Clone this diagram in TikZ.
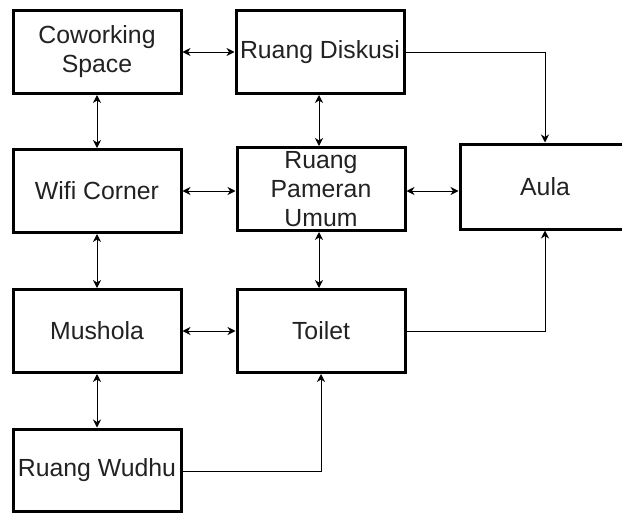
\documentclass[tikz,border=0pt]{standalone}
\usepackage{fontspec}
\setmainfont{Liberation Sans}
\usetikzlibrary{arrows.meta}
\definecolor{txt}{HTML}{222222}
\tikzset{
  room/.style={draw=black, line width=3pt, fill=white, inner sep=0pt,
    minimum width=168pt, minimum height=83pt, align=center, text=txt,
    font=\fontsize{24.8}{29}\selectfont},
  link/.style={draw=black, line width=1pt},
  both/.style={link, {Stealth[length=8pt,width=8pt,inset=2.5pt]}-{Stealth[length=8pt,width=8pt,inset=2.5pt]}},
  one/.style={link, -{Stealth[length=8pt,width=8pt,inset=2.5pt]}}
}
\begin{document}
\begin{tikzpicture}[x=1pt,y=-1pt]
\useasboundingbox (0,0) rectangle (622,514);
\clip (0,0) rectangle (622,514);
\fill[white] (0,0) rectangle (622,514);
\node[room] (cow) at (97,52) {Coworking\\Space};
\node[room] (dis) at (320,52) {Ruang Diskusi};
\node[room] (wifi) at (97,191) {Wifi Corner};
\node[room] (pam) at (321,189) {Ruang\\Pameran\\Umum};
\node[room, minimum width=170pt, minimum height=85pt] (aula) at (545,186.5) {Aula};
\node[room] (mus) at (97,331) {Mushola};
\node[room] (toi) at (321,331) {Toilet};
\node[room, minimum height=82pt] (wud) at (97,470) {Ruang Wudhu};
\coordinate (c1) at (545,52);
\coordinate (c2) at (545,331);
\coordinate (c3) at (321,471);
\draw[both] (cow.east) -- (dis.west);
\draw[both] (cow.south) -- (wifi.north);
\draw[both] (dis.south -| 319,0) -- (pam.north -| 319,0);
\draw[both] (wifi.east) -- (wifi.east -| pam.west);
\draw[both] (pam.east |- wifi.east) -- (wifi.east -| aula.west);
\draw[both] (wifi.south) -- (mus.north);
\draw[both] (pam.south -| 319,0) -- (toi.north -| 319,0);
\draw[both] (mus.east) -- (toi.west);
\draw[both] (mus.south) -- (wud.north);
\draw[one] (dis.east) -- (c1) -- (aula.north);
\draw[one] (toi.east) -- (c2) -- (aula.south);
\draw[one] (wud.east |- c3) -- (c3) -- (toi.south);
\end{tikzpicture}
\end{document}
